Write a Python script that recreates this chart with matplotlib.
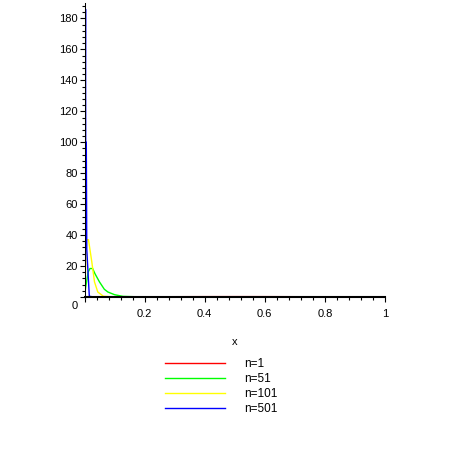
import matplotlib
matplotlib.use('Agg')
import matplotlib.pyplot as plt
from matplotlib.ticker import MultipleLocator, FixedLocator

plt.rcParams['font.family'] = ['Liberation Sans', 'DejaVu Sans']
plt.rcParams['font.size'] = 8

# curves (x, y)
x_n1 = [0, 0.2, 0.4, 0.5, 0.6, 0.8, 1]
y_n1 = [0, 0.16, 0.24, 0.25, 0.24, 0.16, 0]

x_n51 = [0, 0.004, 0.012, 0.018, 0.027, 0.035, 0.05, 0.066, 0.078, 0.1, 0.128, 0.2, 1]
y_n51 = [0, 6.5, 16, 18.4, 18.4, 15, 9.7, 5, 3.2, 1.5, 0.4, 0, 0]

x_n101 = [0, 0.004, 0.0067, 0.0133, 0.0243, 0.0333, 0.0443, 0.063, 0.1, 1]
y_n101 = [0, 20, 37, 37, 22.7, 9.7, 3.2, 0.5, 0, 0]

x_n501 = [0, 0.0035, 0.004, 0.006, 0.0075, 0.016, 0.03, 1]
y_n501 = [0, 186, 100, 100, 31, 0.5, 0, 0]

labels = ['n=1', 'n=51', 'n=101', 'n=501']
colors = ['#ff0000', '#00ff00', '#ffff00', '#0000ff']

fig = plt.figure(figsize=(4.5, 4.5), dpi=100)
ax = fig.add_axes([84.5/450, 1 - 297/450, 300.5/450, 294/450])

series = [(x_n1, y_n1), (x_n51, y_n51), (x_n101, y_n101), (x_n501, y_n501)]
for (xs, ys), lab, c in zip(series, labels, colors):
    ax.plot(xs, ys, color=c, lw=1, label=lab, zorder=1)

ax.set_xlim(0, 1)
ax.set_ylim(0, 190)

for s in ['top', 'right']:
    ax.spines[s].set_visible(False)
ax.spines['left'].set_linewidth(0.75)
ax.spines['bottom'].set_linewidth(1.5)
for s in ['left', 'bottom']:
    ax.spines[s].set_zorder(3)

ax.xaxis.set_major_locator(FixedLocator([0, 0.2, 0.4, 0.6, 0.8, 1]))
ax.set_xticklabels(['', '0.2', '0.4', '0.6', '0.8', '1'])
ax.xaxis.set_minor_locator(MultipleLocator(0.04))
ax.yaxis.set_major_locator(FixedLocator(list(range(0, 181, 20))))
ax.set_yticklabels([''] + [str(v) for v in range(20, 181, 20)])
ax.yaxis.set_minor_locator(MultipleLocator(4))
ax.tick_params(which='major', length=3.5, width=0.8, pad=1.5)
ax.tick_params(which='minor', length=2.2, width=0.8)
ax.tick_params(axis='x', which='major', pad=5)

ax.annotate('0', xy=(0, 0), xytext=(-10, -9), textcoords='offset pixels',
            ha='center', va='center')

ax.set_xlabel('x', labelpad=13)

fig.legend(loc='upper left', bbox_to_anchor=(165/450, 1 - 358/450),
           frameon=False, borderpad=0, handlelength=5.1, handletextpad=1.6,
           labelspacing=0.25, borderaxespad=0, fontsize=8.5)

fig.savefig('out.png', dpi=100)
